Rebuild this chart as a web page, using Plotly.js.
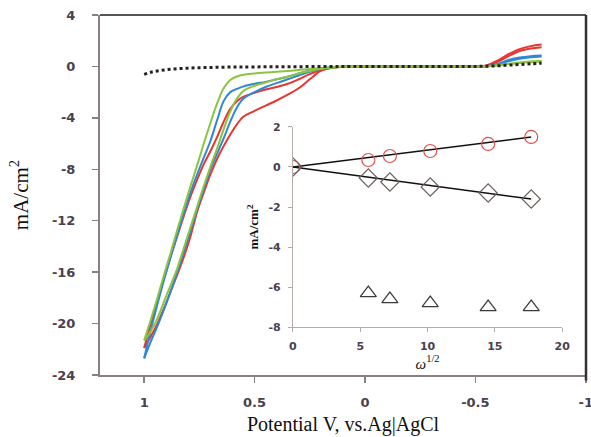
<!DOCTYPE html>
<html>
<head>
<meta charset="utf-8">
<script src="https://cdn.plot.ly/plotly-3.0.1.min.js"></script>
<style>html,body{margin:0;padding:0;background:#fff;}#chart{width:591px;height:437px;}</style>
</head>
<body>
<div id="chart"></div>
<script>
// ---- Main CV curves (potential V vs Ag|AgCl, current mA/cm2) ----
const potential  = [1.0, 0.97, 0.94, 0.91, 0.88, 0.85, 0.82, 0.79, 0.76, 0.73, 0.70, 0.67, 0.64, 0.61, 0.58, 0.55, 0.50, 0.45, 0.40, 0.35, 0.30, 0.25, 0.20, 0.15, 0.10, 0.0, -0.2, -0.4, -0.5, -0.55, -0.6, -0.65, -0.7, -0.75, -0.8];
const redOuter   = [-21.9,-21.0,-20.0,-18.8,-17.5,-16.2,-14.8,-13.2,-11.3,-9.8,-8.4,-7.2,-6.2,-5.3,-4.5,-3.9,-3.45,-3.05,-2.65,-2.2,-1.7,-1.0,-0.35,-0.1,-0.03,0,0,0,0,0.08,0.45,0.95,1.35,1.58,1.7];
const redInner   = [-21.9,-20.0,-18.2,-16.5,-14.8,-13.2,-11.6,-10.1,-8.8,-7.6,-6.6,-5.5,-4.3,-3.3,-2.7,-2.35,-2.05,-1.8,-1.6,-1.35,-1.0,-0.6,-0.28,-0.1,-0.03,0,0,0,0,0.05,0.35,0.8,1.2,1.4,1.5];
const blueOuter  = [-22.7,-21.4,-20.2,-18.9,-17.5,-16.0,-14.4,-12.8,-11.1,-9.5,-8.0,-6.8,-5.6,-4.3,-3.2,-2.5,-2.0,-1.6,-1.3,-1.0,-0.7,-0.42,-0.2,-0.08,-0.02,0,0,0,0,0.02,0.2,0.5,0.7,0.8,0.85];
const blueInner  = [-22.7,-20.5,-18.5,-16.6,-14.8,-13.1,-11.4,-9.8,-8.4,-7.1,-5.8,-4.2,-2.7,-2.0,-1.75,-1.55,-1.35,-1.2,-1.0,-0.8,-0.55,-0.32,-0.15,-0.06,-0.02,0,0,0,0,0.02,0.15,0.4,0.6,0.72,0.78];
const greenOuter = [-21.3,-20.6,-19.6,-18.3,-17.0,-15.7,-14.1,-12.5,-10.9,-9.3,-7.8,-6.4,-4.9,-3.5,-2.5,-1.9,-1.5,-1.25,-1.0,-0.8,-0.55,-0.35,-0.18,-0.08,-0.03,0,0,0,0,0.02,0.08,0.18,0.27,0.33,0.38];
const greenInner = [-21.3,-19.7,-18.0,-16.2,-14.5,-12.7,-11.0,-9.3,-7.7,-6.0,-4.4,-2.9,-1.7,-1.05,-0.78,-0.64,-0.55,-0.48,-0.42,-0.35,-0.28,-0.2,-0.14,-0.08,-0.04,0,0,0,0,0.02,0.1,0.2,0.3,0.38,0.45];
const blankCurve = [-0.62,-0.45,-0.35,-0.28,-0.22,-0.18,-0.15,-0.12,-0.1,-0.09,-0.08,-0.07,-0.06,-0.05,-0.05,-0.04,-0.04,-0.03,-0.03,-0.02,-0.02,-0.01,-0.01,0,0,0,0,0,0,0.02,0.05,0.1,0.15,0.2,0.25];
const mainXTicks = [1, 0.5, 0, -0.5, -1];
const mainXTickText = ['1', '0.5', '0', '-0.5', '-1'];
const mainYTicks = [4, 0, -4, -8, -12, -16, -20, -24];
const mainYTickText = ['4', '0', '-4', '-8', '-12', '-16', '-20', '-24'];

// ---- Inset: current vs omega^1/2 ----
const omegaHalf = [0, 5.6, 7.2, 10.2, 14.5, 17.7];
const circleY   = [0, 0.35, 0.55, 0.8, 1.15, 1.5];
const diamondY  = [0, -0.55, -0.75, -1.0, -1.3, -1.6];
const triangleX = [5.6, 7.2, 10.2, 14.5, 17.7];
const triangleY = [-6.3, -6.6, -6.8, -7.0, -7.0];
const fitX      = [0, 17.7];
const fitUpY    = [0, 1.5];
const fitDownY  = [0, -1.6];
const insetXTicks = [0, 5, 10, 15, 20];
const insetYTicks = [2, 0, -2, -4, -6, -8];
const insetYTickText = ['2', '0', '-2', '-4', '-6', '-8'];

const RED = '#e8352f', BLUE = '#2f88d4', GREEN = '#8cc43f';
function cv(y, color) {
  return {x: potential, y: y, type: 'scatter', mode: 'lines', xaxis: 'x', yaxis: 'y',
          line: {color: color, width: 2, shape: 'spline', smoothing: 1}, hoverinfo: 'skip'};
}
const traces = [
  cv(redOuter, RED), cv(redInner, RED),
  cv(blueOuter, BLUE), cv(blueInner, BLUE),
  cv(greenOuter, GREEN), cv(greenInner, GREEN),
  {x: potential, y: blankCurve, type: 'scatter', mode: 'lines', xaxis: 'x', yaxis: 'y',
   line: {color: '#222', width: 3, dash: 'dot', shape: 'spline'}},
  {x: fitX, y: fitUpY, type: 'scatter', mode: 'lines', xaxis: 'x2', yaxis: 'y2', line: {color: '#111', width: 1.5}},
  {x: fitX, y: fitDownY, type: 'scatter', mode: 'lines', xaxis: 'x2', yaxis: 'y2', line: {color: '#111', width: 1.5}},
  {x: omegaHalf, y: circleY, type: 'scatter', mode: 'markers', xaxis: 'x2', yaxis: 'y2',
   marker: {symbol: 'circle-open', size: 13, color: '#e0504a', line: {width: 1.2}}},
  {x: omegaHalf, y: diamondY, type: 'scatter', mode: 'markers', xaxis: 'x2', yaxis: 'y2',
   marker: {symbol: 'diamond-open', size: 14, color: '#6a5f5c', line: {width: 1.2}}},
  {x: triangleX, y: triangleY, type: 'scatter', mode: 'markers', xaxis: 'x2', yaxis: 'y2',
   marker: {symbol: 'triangle-up-open', size: 14, color: '#3a3a3a', line: {width: 1.2}}}
];

const tickFont = {family: 'DejaVu Sans, Verdana, sans-serif', size: 13, color: '#4a4050', weight: 'bold'};
const insetTickFont = {family: 'DejaVu Sans, Verdana, sans-serif', size: 11, color: '#4a4050', weight: 'bold'};
const serif = 'Liberation Serif, Times New Roman, serif';

const layout = {
  width: 591, height: 437,
  margin: {l: 100, r: 5, t: 15, b: 62},
  paper_bgcolor: '#fff', plot_bgcolor: 'rgba(0,0,0,0)',
  showlegend: false,
  xaxis: {
    range: [1.2, -1.001], tickvals: mainXTicks, ticktext: mainXTickText,
    showgrid: false, zeroline: false,
    showline: true, linecolor: '#8a8080', linewidth: 2,
    ticks: 'outside', ticklen: 6, tickcolor: '#8a8080', tickwidth: 1.5,
    ticklabelstandoff: 8, ticklabeloverflow: 'allow',
    tickfont: tickFont,
    title: {text: 'Potential V, vs.Ag|AgCl', font: {family: serif, size: 20, color: '#111'}, standoff: 8}
  },
  yaxis: {
    range: [-24, 4], tickvals: mainYTicks, ticktext: mainYTickText,
    showgrid: false, zeroline: false,
    showline: true, linecolor: '#8a8080', linewidth: 2,
    ticks: 'outside', ticklen: 6, tickcolor: '#8a8080', tickwidth: 1.5,
    ticklabelstandoff: 14,
    tickfont: tickFont,
    title: {text: 'mA/cm<sup>2</sup>', font: {family: serif, size: 21, color: '#111'}, standoff: 18}
  },
  xaxis2: {
    domain: [0.397, 0.951], anchor: 'y2', range: [0, 20], tickvals: insetXTicks,
    showgrid: false, zeroline: false,
    showline: true, linecolor: '#b8aaa6', linewidth: 1,
    ticks: 'outside', ticklen: 4, tickcolor: '#b8aaa6',
    ticklabelstandoff: 5,
    tickfont: insetTickFont,
    title: {text: '<i>ω</i><sup>1/2</sup>', font: {family: serif, size: 15, color: '#111'}, standoff: 0}
  },
  yaxis2: {
    domain: [0.133, 0.689], anchor: 'x2', range: [-8, 2], tickvals: insetYTicks, ticktext: insetYTickText,
    showgrid: false, zeroline: false,
    showline: true, linecolor: '#b8aaa6', linewidth: 1,
    ticks: 'outside', ticklen: 4, tickcolor: '#b8aaa6',
    ticklabelstandoff: 5,
    tickfont: insetTickFont,
    title: {text: 'mA/cm<sup>2</sup>', font: {family: serif, size: 13, color: '#111', weight: 'bold'}, standoff: 6}
  },
  shapes: [
    {type: 'line', xref: 'paper', yref: 'paper', x0: 0, x1: 1, y0: 1, y1: 1, line: {color: '#555', width: 2}},
    {type: 'line', xref: 'paper', yref: 'paper', x0: 1, x1: 1, y0: -0.015, y1: 1, line: {color: '#333', width: 2.5}}
  ]
};

Plotly.newPlot('chart', traces, layout, {displayModeBar: false, staticPlot: true});
</script>
</body>
</html>
